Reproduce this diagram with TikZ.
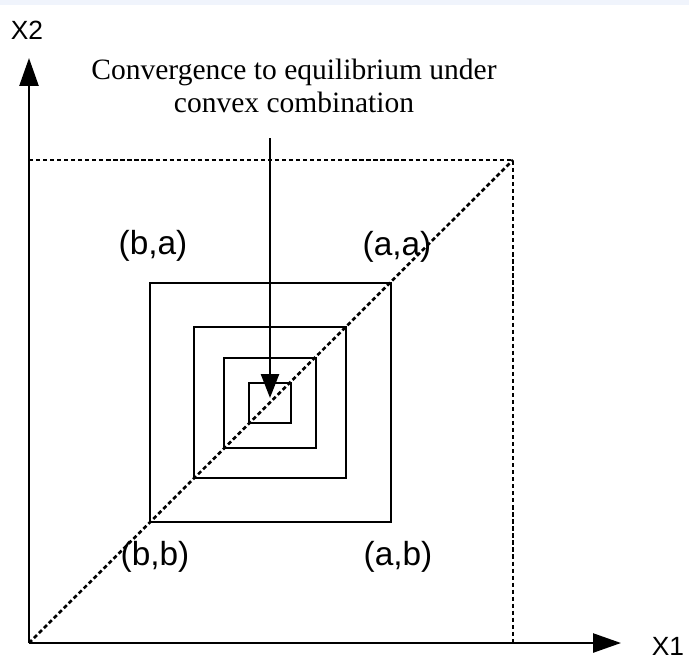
\documentclass[tikz,border=0pt]{standalone}
\usepackage{fontspec}
\setmainfont{Liberation Serif}
\newfontfamily\labelfont{Liberation Sans}
\usepackage{tikz}
\usetikzlibrary{positioning,arrows.meta}

\definecolor{bandblue}{RGB}{240,244,252}

\begin{document}
\begin{tikzpicture}[
  x=0.02cm, y=-0.02cm,
  axis/.style={line width=1.4pt, -{Triangle[length=15.9pt,width=10.8pt]}},
  guide/.style={line width=1.5pt, dash pattern=on 2.4pt off 1.6pt},
  box/.style={line width=1.4pt},
  ptr/.style={line width=1.4pt, -{Triangle[length=13.6pt,width=10.2pt]}},
  lbl/.style={font=\labelfont\fontsize{19}{22}\selectfont, inner sep=0pt},
  axlbl/.style={font=\labelfont\fontsize{15}{17}\selectfont, inner sep=0pt},
  note/.style={font=\fontsize{16.8}{18.7}\selectfont, align=center, inner sep=0pt},
]
\useasboundingbox (0,0) rectangle (689,660);
\fill[bandblue] (0,0) rectangle (689,5);

% axes
\coordinate (O)    at (29,643);
\coordinate (ytop) at (29,58);
\coordinate (xend) at (621,643);
\coordinate (C)    at (513,160);
\draw[axis] (O) -- (ytop);
\draw[axis] (O) -- (xend);
\node[axlbl] (x2) at (27,30)  {X2};
\node[axlbl] (x1) at (668,646) {X1};

% dashed square and diagonal
\draw[guide] (ytop |- C) -- (C) -- (C |- O);
\draw[guide] (O) -- (C);

% shrinking squares
\foreach \l/\t/\r/\b in {150/283/391/522, 194/327/346/478, 224/358/316/448, 249/383/291/423}
  \draw[box] (\l,\t) rectangle (\r,\b);

\node[lbl] (ba) at (153,246) {(b,a)};
\node[lbl] (aa) at (397,247) {(a,a)};
\node[lbl] (bb) at (155,557) {(b,b)};
\node[lbl] (ab) at (398,557) {(a,b)};

% pointer
\node[note] (note) at (294,86) {Convergence to equilibrium under\\convex combination};
\coordinate (src) at (270,138);
\coordinate (tip) at (270,398);
\draw[ptr] (src) -- (tip);
\end{tikzpicture}
\end{document}
